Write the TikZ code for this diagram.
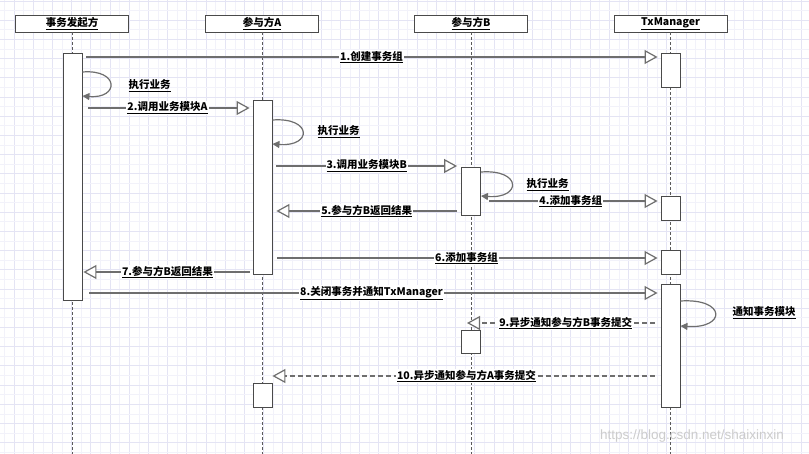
\documentclass[tikz,border=0pt]{standalone}
\usepackage{fontspec}
\setmainfont{Noto Sans CJK SC}
\newfontfamily\wmfont{Liberation Sans}
\usetikzlibrary{arrows.meta,calc}
\definecolor{linec}{HTML}{6E6E6E}
\definecolor{boxc}{HTML}{4A4A4A}
\definecolor{lifec}{HTML}{5A5A5A}
\definecolor{gridmaj}{HTML}{E4E4F4}
\definecolor{gridmin}{HTML}{F2F2FA}
\begin{document}
\begin{tikzpicture}[x=1pt,y=-1pt,
  hdr/.style={draw=boxc, fill=white, line width=0.9pt, minimum width=113pt, minimum height=17pt, inner sep=0pt, font=\fontsize{10.5}{12}\selectfont\bfseries},
  act/.style={draw=boxc, fill=white, line width=0.9pt, minimum width=19pt, inner sep=0pt, anchor=north},
  life/.style={draw=lifec, line width=1pt, dash pattern=on 3pt off 2pt},
  msg/.style={draw=linec, line width=1.2pt, -{Triangle[open,length=13pt,width=14pt,fill=white]}},
  ret/.style={msg, dash pattern=on 5pt off 3pt},
  lbl/.style={fill=white, inner sep=1pt, text=black, font=\fontsize{10.5}{12}\selectfont\bfseries},
  selfloop/.style={draw=linec, line width=1.2pt, -{Triangle[length=7pt,width=7pt]}}
]
\useasboundingbox (0,0) rectangle (809,454);
\fill[white] (0,0) rectangle (809,454);
% grid
\foreach \i in {0,...,42} {
  \draw[gridmin, line width=0.6pt] ({4.4+19.2*\i},0) -- ({4.4+19.2*\i},454);
  \draw[gridmaj, line width=0.8pt] ({14+19.2*\i},0) -- ({14+19.2*\i},454);
}
\foreach \j in {0,...,24} {
  \draw[gridmin, line width=0.6pt] (0,{10.6+19.2*\j}) -- (809,{10.6+19.2*\j});
  \draw[gridmaj, line width=0.8pt] (0,{1+19.2*\j}) -- (809,{1+19.2*\j});
}
% headers
\node[hdr] (hI) at (72,23.5) {\underline{事务发起方}};
\node[hdr] (hA) at (262,23.5) {\underline{参与方A}};
\node[hdr] (hB) at (471,23.5) {\underline{参与方B}};
\node[hdr] (hT) at (670.5,23.5) {\underline{TxManager}};
\coordinate (eI) at (72,454);
\coordinate (eA) at (262,454);
\coordinate (eB) at (471,454);
\coordinate (eT) at (670.5,454);
% lifelines
\draw[life] (hI.south) -- (eI);
\draw[life] (hA.south) -- (eA);
\draw[life] (hB.south) -- (eB);
\draw[life] (hT.south) -- (eT);
% activation boxes
\node[act, minimum height=247pt] (ini) at (72.5,53) {};
\node[act, minimum height=174pt] (actA) at (262.5,100) {};
\node[act, minimum height=48pt] (actB) at (471,167) {};
\node[act, minimum height=34pt] (tx1) at (670.5,53) {};
\node[act, minimum height=24pt] (tx2) at (670.5,196) {};
\node[act, minimum height=24pt] (tx3) at (670.5,250) {};
\node[act, minimum height=123pt] (tx4) at (670.5,284) {};
\node[act, minimum height=23pt] (actB2) at (471,330) {};
\node[act, minimum height=24pt] (actA2) at (262.5,383) {};
% messages
\draw[msg, shorten <=4pt, shorten >=3pt] (ini.east |- 0,57) -- node[lbl] {\underline{1.创建事务组}} (tx1.west |- 0,57);
\draw[msg, shorten <=6pt, shorten >=3pt] (ini.east |- 0,108) -- node[lbl] {\underline{2.调用业务模块A}} (actA.west |- 0,108);
\draw[msg, shorten <=4pt, shorten >=4pt] (actA.east |- 0,166) -- node[lbl] {\underline{3.调用业务模块B}} (actB.west |- 0,166);
\draw[msg, shorten <=8pt, shorten >=3pt] (actB.east |- 0,201) -- node[lbl] {\underline{4.添加事务组}} (tx2.west |- 0,201);
\draw[msg, shorten <=4pt, shorten >=4pt] (actB.west |- 0,211) -- node[lbl] {\underline{5.参与方B返回结果}} (actA.east |- 0,211);
\draw[msg, shorten <=5pt, shorten >=3pt] (actA.east |- 0,258) -- node[lbl] {\underline{6.添加事务组}} (tx3.west |- 0,258);
\draw[msg, shorten <=3pt, shorten >=1pt] (actA.west |- 0,272) -- node[lbl] {\underline{7.参与方B返回结果}} (ini.east |- 0,272);
\draw[msg, shorten <=7pt, shorten >=3pt] (ini.east |- 0,293) -- node[lbl] {\underline{8.关闭事务并通知TxManager}} (tx4.west |- 0,293);
\draw[ret, shorten <=6pt, shorten >=-4pt] (tx4.west |- 0,323) -- node[lbl] {\underline{9.异步通知参与方B事务提交}} (eB |- 0,323);
\draw[ret, shorten <=6pt] (tx4.west |- 0,376) -- node[lbl] {\underline{10.异步通知参与方A事务提交}} (actA2.east |- 0,376);
% self loops
\draw[selfloop] (ini.east |- 0,72) .. controls +(37,-3) and +(37,3) .. (ini.east |- 0,96);
\node[lbl, fill=none] (l1) at (149.5,86) {\underline{执行业务}};
\draw[selfloop] (actA.east |- 0,120) .. controls +(40,-3) and +(40,3) .. (actA.east |- 0,144);
\node[lbl, fill=none] (l2) at (338.5,132) {\underline{执行业务}};
\draw[selfloop] (actB.east |- 0,172) .. controls +(41,-3) and +(41,3) .. (actB.east |- 0,196);
\node[lbl, fill=none] (l3) at (547.5,185) {\underline{执行业务}};
\draw[selfloop] (tx4.east |- 0,301) .. controls +(46,-3) and +(46,3) .. (tx4.east |- 0,326);
\node[lbl, fill=none] (l4) at (764,313) {\underline{通知事务模块}};
% watermark
\node[text=gray!40, font=\wmfont\fontsize{13.5}{14}\selectfont] (wm) at (692,436) {https://blog.csdn.net/shaixinxin};
\end{tikzpicture}
\end{document}
